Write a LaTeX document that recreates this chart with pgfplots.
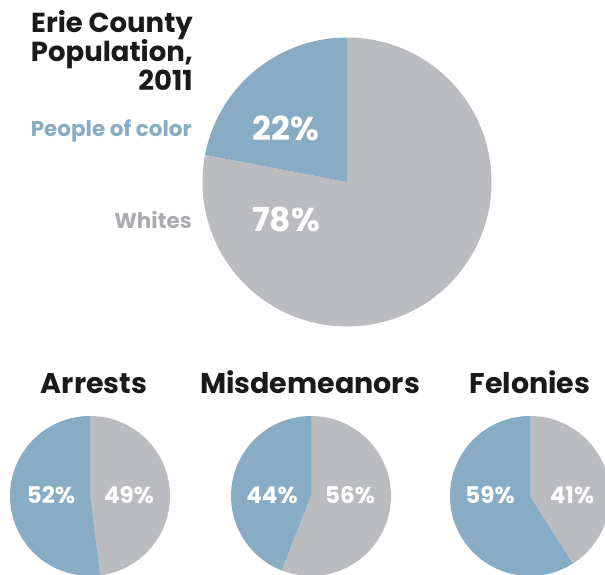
\documentclass[border=0pt]{standalone}
\usepackage{pgfplots}
\pgfplotsset{compat=1.18}
\usepackage{fontspec}
\setmainfont{Poppins}
\definecolor{cblue}{HTML}{87ACC4}
\definecolor{cgrey}{HTML}{BBBCBF}
\definecolor{cgreytxt}{HTML}{ABACAF}
\definecolor{ctitle}{HTML}{1A1A1A}
% #1 cx, #2 cy, #3 radius, #4 blue share, #5 grey share
\newcommand{\pie}[5]{%
  \fill[cgrey] (axis cs:#1,#2) -- ++(90:#3pt) arc[start angle=90, delta angle=-3.6*#5, radius=#3pt] -- cycle;
  \fill[cblue] (axis cs:#1,#2) -- ++(90:#3pt) arc[start angle=90, delta angle=3.6*#4, radius=#3pt] -- cycle;
}
\begin{document}
\begin{tikzpicture}
\useasboundingbox (0,0) rectangle (605pt,575pt);
\clip (0,0) rectangle (605pt,575pt);
\begin{axis}[at={(0,0)}, anchor=south west, width=605pt, height=575pt,
  scale only axis, xmin=0, xmax=605, ymin=0, ymax=575, y dir=reverse,
  hide axis, clip=false]
\pie{347}{182}{144.5}{22}{78}
\pie{90}{496}{80}{52}{49}
\pie{311}{496}{80}{44}{56}
\pie{530}{496}{80}{59}{41}
% title
\node[anchor=base east, font=\bfseries\fontsize{27.5}{29}\selectfont, text=ctitle, inner sep=0pt] at (axis cs:193,33) {Erie County};
\node[anchor=base east, font=\bfseries\fontsize{27.5}{29}\selectfont, text=ctitle, inner sep=0pt] at (axis cs:193,62) {Population,};
\node[anchor=base east, font=\bfseries\fontsize{27.5}{29}\selectfont, text=ctitle, inner sep=0pt] at (axis cs:193,91) {2011};
\node[anchor=base east, font=\bfseries\fontsize{21.5}{22}\selectfont, text=cblue, inner sep=0pt] at (axis cs:192,137) {People of color};
\node[anchor=base east, font=\bfseries\fontsize{21.5}{22}\selectfont, text=cgreytxt, inner sep=0pt] at (axis cs:192,228) {Whites};
% big pie labels
\node[font=\bfseries\fontsize{33}{36}\selectfont, text=white, inner sep=0pt] at (axis cs:286,128) {22\%};
\node[font=\bfseries\fontsize{33}{36}\selectfont, text=white, inner sep=0pt] at (axis cs:286,219) {78\%};
% section titles
\node[anchor=base, font=\bfseries\fontsize{28.5}{30}\selectfont, text=ctitle, inner sep=0pt] at (axis cs:94,393) {Arrests};
\node[anchor=base, font=\bfseries\fontsize{28.5}{30}\selectfont, text=ctitle, inner sep=0pt] at (axis cs:310,393) {Misdemeanors};
\node[anchor=base, font=\bfseries\fontsize{28.5}{30}\selectfont, text=ctitle, inner sep=0pt] at (axis cs:530,393) {Felonies};
% small pie labels
\node[font=\bfseries\fontsize{23}{26}\selectfont, text=white, inner sep=0pt] at (axis cs:51,495) {52\%};
\node[font=\bfseries\fontsize{23}{26}\selectfont, text=white, inner sep=0pt] at (axis cs:129,495) {49\%};
\node[font=\bfseries\fontsize{23}{26}\selectfont, text=white, inner sep=0pt] at (axis cs:272,495) {44\%};
\node[font=\bfseries\fontsize{23}{26}\selectfont, text=white, inner sep=0pt] at (axis cs:350,495) {56\%};
\node[font=\bfseries\fontsize{23}{26}\selectfont, text=white, inner sep=0pt] at (axis cs:490,495) {59\%};
\node[font=\bfseries\fontsize{23}{26}\selectfont, text=white, inner sep=0pt] at (axis cs:572,495) {41\%};
\end{axis}
\end{tikzpicture}
\end{document}
